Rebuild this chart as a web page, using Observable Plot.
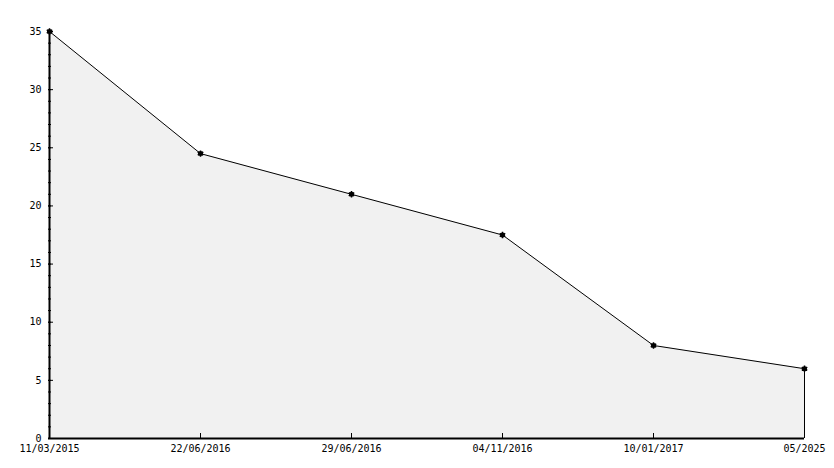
<!DOCTYPE html>
<html><head><meta charset="utf-8">
<script src="https://cdn.jsdelivr.net/npm/d3@7"></script>
<script src="https://cdn.jsdelivr.net/npm/@observablehq/plot@0.6"></script>
<style>body{margin:0;background:#fff}svg{display:block}</style>
</head><body><div id="chart"></div>
<script>
const dates = ["11/03/2015","22/06/2016","29/06/2016","04/11/2016","10/01/2017","05/2025"];
const values = [35, 24.5, 21, 17.5, 8, 6];
const yMajor = [0,5,10,15,20,25,30,35];
const yMinor = d3.range(0, 36);
const data = dates.map((d,i)=>({date:d, value:values[i]}));

const chart = Plot.plot({
  width: 834, height: 468,
  marginLeft: 48, marginRight: 30, marginTop: 31, marginBottom: 30,
  style: {fontFamily: "DejaVu Sans Mono", fontSize: "10px", color: "#000", background: "#fff"},
  x: {type: "point", domain: dates, padding: 0},
  y: {domain: [0, 35]},
  marks: [
    Plot.gridY(yMajor, {stroke: "#dddddd", strokeOpacity: 1, x1: dates[0], x2: dates[dates.length-1]}),
    Plot.areaY(data, {x: "date", y: "value", fill: "#f1f1f1", curve: "linear"}),
    Plot.lineY(data, {x: "date", y: "value", stroke: "#000", strokeWidth: 1}),
    Plot.ruleX([dates[dates.length-1]], {y1: 0, y2: values[values.length-1], stroke: "#000"}),
    Plot.axisY({ticks: yMinor, tickSize: -3, text: null, stroke: "#000", label: null}),
    Plot.axisY({ticks: yMajor, tickSize: -5, tickPadding: 12, stroke: "#000", fill: "#000", label: null}),
    Plot.axisX({tickSize: -5, tickPadding: 11, stroke: "#000", fill: "#000", label: null}),
    Plot.ruleX([dates[0]], {stroke: "#000", strokeWidth: 2}),
    Plot.ruleY([0], {stroke: "#000", strokeWidth: 2}),
    Plot.dot(data, {x: "date", y: "value", r: 3, fill: "#000", symbol: "asterisk", stroke: "#000", strokeWidth: 1.5}),
    Plot.dot(data, {x: "date", y: "value", r: 2.5, fill: "#000"})
  ]
});
document.getElementById("chart").append(chart);
</script></body></html>
